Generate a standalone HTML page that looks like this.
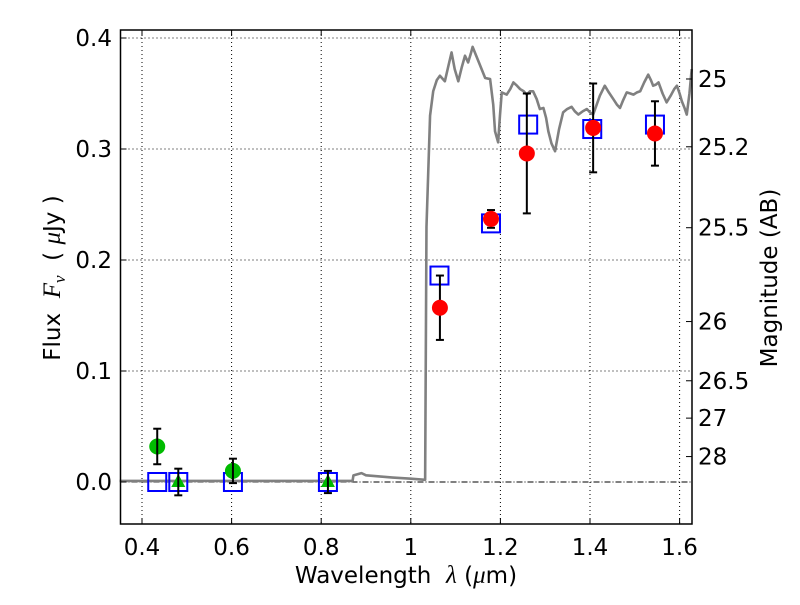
<!DOCTYPE html>
<html><head><meta charset="utf-8"><style>
body{margin:0;background:#fff}
svg text{font-family:"DejaVu Sans","Liberation Sans",sans-serif;fill:#000}
.tk{font-size:23px}
.ttl{font-size:23px}
</style></head><body>
<svg id="chart" width="800" height="600" xmlns="http://www.w3.org/2000/svg">
<rect width="800" height="600" fill="#fff"/>
<g id="grid"></g>
<g id="spec"></g>
<g id="marks"></g>
<g id="axes"></g>
<text class="ttl" x="406" y="583" text-anchor="middle">Wavelength&#160;&#160;<tspan font-family="Liberation Serif" font-style="italic" style="font-size:25px">λ</tspan> (<tspan font-family="Liberation Serif" font-style="italic" style="font-size:25px">μ</tspan>m)</text>
<text class="ttl" transform="translate(60,278) rotate(-90)" text-anchor="middle">Flux&#160;&#160;<tspan font-family="Liberation Serif" font-style="italic" style="font-size:25px">F</tspan><tspan font-family="Liberation Serif" font-style="italic" style="font-size:17px" dy="5">ν</tspan><tspan dy="-5">&#160;&#160;(&#160;</tspan><tspan font-family="Liberation Serif" font-style="italic" style="font-size:25px">μ</tspan>Jy )</text>
<text class="ttl" transform="translate(777,278) rotate(-90)" text-anchor="middle">Magnitude (AB)</text>
</svg>
<script>
const xTicks=[0.4,0.6,0.8,1.0,1.2,1.4,1.6];
const xTickLabels=["0.4","0.6","0.8","1","1.2","1.4","1.6"];
const yTicks=[0,0.1,0.2,0.3,0.4];
const yTickLabels=["0.0","0.1","0.2","0.3","0.4"];
const magTicks=[25,25.2,25.5,26,26.5,27,28];
const magTickLabels=["25","25.2","25.5","26","26.5","27","28"];
const specLam=[0.35,0.87,0.872,0.89,0.9,0.93,0.96,1.0,1.032,1.035,1.043,1.050,1.058,1.065,1.076,1.084,1.091,1.098,1.106,1.114,1.121,1.128,1.134,1.138,1.146,1.154,1.166,1.177,1.184,1.188,1.195,1.199,1.203,1.214,1.222,1.229,1.237,1.244,1.252,1.259,1.266,1.273,1.281,1.288,1.296,1.302,1.307,1.314,1.322,1.331,1.340,1.349,1.359,1.366,1.374,1.384,1.393,1.400,1.407,1.415,1.422,1.433,1.442,1.452,1.460,1.467,1.474,1.482,1.490,1.497,1.505,1.512,1.521,1.530,1.536,1.541,1.547,1.553,1.562,1.571,1.580,1.588,1.594,1.600,1.605,1.611,1.616,1.622,1.627];
const specFlux=[0.001,0.001,0.006,0.008,0.006,0.005,0.004,0.003,0.002,0.23,0.33,0.352,0.362,0.366,0.361,0.375,0.387,0.372,0.361,0.374,0.384,0.378,0.386,0.392,0.384,0.376,0.364,0.363,0.340,0.316,0.306,0.330,0.351,0.349,0.354,0.360,0.357,0.354,0.352,0.349,0.352,0.352,0.345,0.336,0.337,0.328,0.316,0.305,0.298,0.318,0.333,0.336,0.338,0.334,0.331,0.334,0.336,0.333,0.331,0.340,0.348,0.357,0.351,0.345,0.340,0.337,0.344,0.351,0.350,0.349,0.351,0.352,0.360,0.367,0.362,0.357,0.358,0.360,0.350,0.342,0.348,0.354,0.357,0.350,0.343,0.337,0.331,0.350,0.372];
const redLam=[1.065,1.179,1.259,1.407,1.545];
const redFlux=[0.157,0.237,0.296,0.319,0.314];
const redErr=[0.029,0.008,0.054,0.040,0.029];
const modelLam=[0.434,0.481,0.603,0.815,1.064,1.179,1.262,1.405,1.545];
const modelFlux=[0,0,0,0,0.186,0.233,0.322,0.318,0.322];
const greenCircLam=[0.434,0.603];
const greenCircFlux=[0.032,0.010];
const greenCircErr=[0.016,0.011];
const greenTriLam=[0.481,0.815];
const greenTriFlux=[0.0,0.0];
const greenTriErr=[0.012,0.010];

const L=120.5,R=692,T=30,B=524;
const X=v=>142+(v-0.4)*448;
const Y=v=>482-v*1110;
const NS="http://www.w3.org/2000/svg";
function mk(tag,parent,attrs){const e=document.createElementNS(NS,tag);for(const k in attrs)e.setAttribute(k,attrs[k]);document.getElementById(parent).appendChild(e);return e;}

xTicks.forEach((t,i)=>{
  const g=mk('line','grid',{x1:X(t),x2:X(t),y1:T,y2:B,stroke:'#000','stroke-width':1,'stroke-dasharray':'1,3'});
  
  
  const tk=mk('line','axes',{x1:X(t),x2:X(t),y1:B,y2:B-6,stroke:'#000'});
  
  
  const tk2=mk('line','axes',{x1:X(t),x2:X(t),y1:T,y2:T+6,stroke:'#000'});
  
  
  const lb=mk('text','axes',{x:X(t),y:555,'class':'tk','text-anchor':'middle'});
  lb.textContent=xTickLabels[i];
  
  
});
yTicks.forEach((t,i)=>{
  if(t!==0){
    const g=mk('line','grid',{x1:L,x2:R,y1:Y(t),y2:Y(t),stroke:'#000','stroke-width':1,'stroke-dasharray':'1,3'});
    
    
  }
  const tk=mk('line','axes',{x1:L,x2:L+6,y1:Y(t),y2:Y(t),stroke:'#000'});
  
  
  const lb=mk('text','axes',{x:112,y:Y(t)+8,'class':'tk','text-anchor':'end'});
  lb.textContent=yTickLabels[i];
  
  
});
const zl=mk('line','grid',{x1:L,x2:R,y1:Y(0),y2:Y(0),stroke:'#000','stroke-width':1,'stroke-dasharray':'6,2,1,2'});


magTicks.forEach((m,i)=>{
  const f=Math.pow(10,(23.9-m)/2.5);
  const tk=mk('line','axes',{x1:R,x2:R-6,y1:Y(f),y2:Y(f),stroke:'#000'});
  
  
  const lb=mk('text','axes',{x:698,y:Y(f)+8,'class':'tk'});
  lb.textContent=magTickLabels[i];
  
  
});
const fr=mk('rect','axes',{x:L,y:T,width:R-L,height:B-T,fill:'none',stroke:'#000','stroke-width':1.5});



const sp=mk('polyline','spec',{points:specLam.map((l,i)=>X(l)+','+Y(specFlux[i])).join(' '),fill:'none',stroke:'#808080','stroke-width':2.6,'stroke-linejoin':'round'});



function errbar(l,f,e){
  const x=X(l),y1=Y(f+e),y2=Y(f-e);
  const a=mk('line','marks',{x1:x,x2:x,y1:y1,y2:y2,stroke:'#000','stroke-width':2});
  
  
  [y1,y2].forEach(y=>{const c=mk('line','marks',{x1:x-4,x2:x+4,y1:y,y2:y,stroke:'#000','stroke-width':2});
    
    });
}
modelLam.forEach((l,i)=>{
  const r=mk('rect','marks',{x:X(l)-9,y:Y(modelFlux[i])-9,width:18,height:18,fill:'none',stroke:'#0000ff','stroke-width':2});
  
  
});
greenTriLam.forEach((l,i)=>{
  const x=X(l),y=Y(greenTriFlux[i]);
  const p=mk('polygon','marks',{points:`${x},${y-8} ${x-7},${y+5} ${x+7},${y+5}`,fill:'#00bb00'});
  
  
  errbar(l,greenTriFlux[i],greenTriErr[i]);
});
greenCircLam.forEach((l,i)=>{
  const c=mk('circle','marks',{cx:X(l),cy:Y(greenCircFlux[i]),r:8,fill:'#00bb00'});
  
  
  errbar(l,greenCircFlux[i],greenCircErr[i]);
});
redLam.forEach((l,i)=>{
  errbar(l,redFlux[i],redErr[i]);
  const c=mk('circle','marks',{cx:X(l),cy:Y(redFlux[i]),r:8,fill:'#ff0000'});
  
  
});
</script>
</body></html>
